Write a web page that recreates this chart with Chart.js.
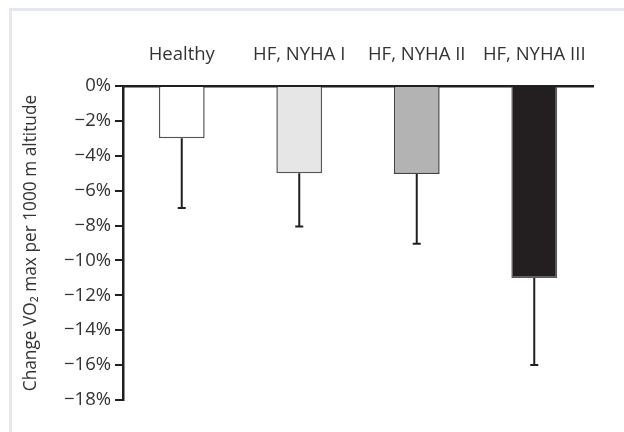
<!DOCTYPE html>
<html>
<head>
<meta charset="utf-8">
<script src="https://cdn.jsdelivr.net/npm/chart.js@4/dist/chart.umd.min.js"></script>
<style>
    html, body { margin: 0; padding: 0; background: #fff; }
    #wrap { position: relative; width: 624px; height: 432px; overflow: hidden; }
    #frame {
        position: absolute; left: 9px; top: 8px; right: -10px; bottom: -10px;
        border-left: 3px solid #e4e6f4; border-top: 3px solid #e4e6f4;
    }
    #chart { position: absolute; left: 0; top: 0; }
</style>
</head>
<body>
<div id="wrap">
    <div id="frame"></div>
    <canvas id="chart" width="624" height="432"></canvas>
</div>
<script>
// ── Data ──────────────────────────────────────────────────
const groups    = ['Healthy', 'HF, NYHA I', 'HF, NYHA II', 'HF, NYHA III'];
const meanDrop  = [-3, -5, -5.05, -11];
const errorLow  = [-7, -8.05, -9.05, -16];
const yTicks    = [0, -2, -4, -6, -8, -10, -12, -14, -16, -18];

const barFill   = ['#ffffff', '#e6e6e6', '#b3b3b3', '#231f20'];
const barEdge   = ['#555555', '#555555', '#444444', '#5a5a5a'];
const ink       = '#231f20';
const textCol   = '#333333';

// ── Whiskers (downward only) ─────────────────────────────
const errorBars = {
    id: 'errorBars',
    afterDatasetsDraw(chart) {
        const ctx = chart.ctx;
        const y = chart.scales.y;
        const meta = chart.getDatasetMeta(0);
        ctx.save();
        ctx.strokeStyle = ink;
        ctx.lineWidth = 2;
        meta.data.forEach((bar, i) => {
            const top = y.getPixelForValue(meanDrop[i]);
            const end = y.getPixelForValue(errorLow[i]);
            ctx.beginPath();
            ctx.moveTo(bar.x, top);
            ctx.lineTo(bar.x, end);
            ctx.moveTo(bar.x - 4, end);
            ctx.lineTo(bar.x + 4, end);
            ctx.stroke();
        });
        ctx.restore();
    }
};

const tickFont  = { family: "'Open Sans', 'Noto Sans', sans-serif", size: 18.5 };
const titleFont = { family: "'Open Sans', 'Noto Sans', sans-serif", size: 17.3 };

new Chart(document.getElementById('chart'), {
    type: 'bar',
    data: {
        labels: groups,
        datasets: [{
            data: meanDrop,
            backgroundColor: barFill,
            borderColor: barEdge,
            borderWidth: 1.5,
            barPercentage: 0.39,
            categoryPercentage: 1
        }]
    },
    options: {
        responsive: false,
        animation: false,
        layout: { padding: { left: 0, right: 31, top: 0, bottom: 32 } },
        plugins: { legend: { display: false }, tooltip: { enabled: false } },
        scales: {
            x: {
                position: 'top',
                afterFit: s => { s.height = 86; },
                grid: { display: true, drawOnChartArea: false, drawTicks: false },
                border: { display: true, color: ink, width: 2.5 },
                ticks: { color: textCol, font: tickFont, padding: 20, maxRotation: 0 }
            },
            y: {
                min: -18,
                max: 0,
                afterFit: s => { s.width = 123; },
                afterBuildTicks: s => { s.ticks = yTicks.map(v => ({ value: v })); },
                grid: { drawOnChartArea: false, drawTicks: true, tickLength: 8, color: ink, lineWidth: 2 },
                border: { display: true, color: ink, width: 2.5 },
                ticks: {
                    color: textCol, font: tickFont, padding: 4,
                    callback: v => v === 0 ? '0%' : '\u2212' + Math.abs(v) + '%'
                },
                title: {
                    display: true,
                    text: 'Change VO\u2082 max per 1000 m altitude',
                    color: textCol,
                    font: titleFont,
                    padding: { top: 21, bottom: 0 }
                }
            }
        }
    },
    plugins: [errorBars]
});
</script>
</body>
</html>
